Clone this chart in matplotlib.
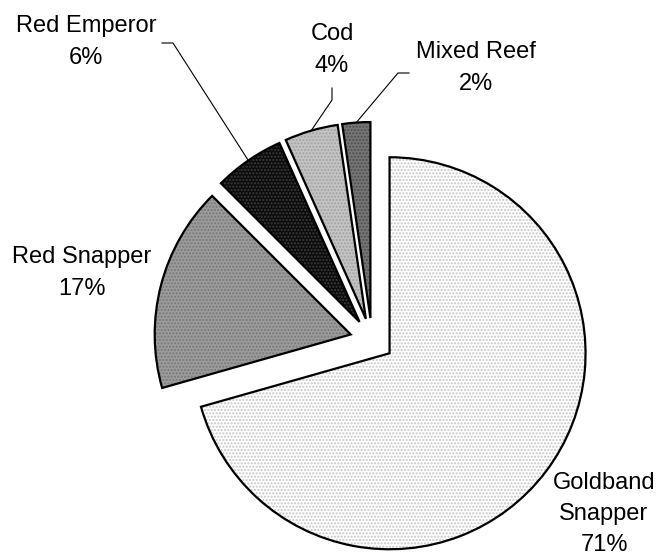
import matplotlib
matplotlib.use("Agg")
import matplotlib.pyplot as plt
import numpy as np

# catch share by species (%)
species = ["Goldband\nSnapper", "Red Snapper", "Red Emperor", "Cod", "Mixed Reef"]
catch_share = [70.6, 16.9, 5.8, 4.4, 2.3]

fill_colors = ["#ffffff", "#9c9c9c", "#0c0c0c", "#c4c4c4", "#767676"]
dot_colors = ["#c4c4c4", "#787878", "#3c3c3c", "#a2a2a2", "#4e4e4e"]

# layout in pixels of the original picture
W, H = 660, 555
CX, CY, R = 372, 340, 196
label_pos = [(604, 514), (82, 273), (86, 42), (332, 50), (476, 68)]
# elbow of the leader lines (label end, bend), only for the small slices
leaders = {2: [(162, 43), (173, 43)],
           3: [(332, 88), (332, 100)],
           4: [(409, 73), (398, 73)]}


def px(x, y):
    return (x - CX) / R, (CY - y) / R


plt.rcParams["font.family"] = ["Liberation Sans", "DejaVu Sans"]
plt.rcParams["hatch.linewidth"] = 1.0

fig = plt.figure(figsize=(W / 100, H / 100), dpi=100)
ax = fig.add_axes([0, 0, 1, 1])

explode = [22 / R] * len(catch_share)
common = dict(startangle=90, counterclock=False, explode=explode, radius=1)

# fill layer with dotted texture
wedges, _ = ax.pie(catch_share, colors=fill_colors,
                   wedgeprops=dict(linewidth=0), **common)
for w, dc in zip(wedges, dot_colors):
    w.set_edgecolor(dc)
    w.set_hatch(".....")

# outline layer
ax.pie(catch_share, colors=["none"] * len(catch_share),
       wedgeprops=dict(edgecolor="black", linewidth=1.6), **common)

total = sum(catch_share)
for i, (name, v) in enumerate(zip(species, catch_share)):
    pct = int(round(v / total * 100))
    x, y = px(*label_pos[i])
    ax.text(x, y, f"{name}\n{pct}%", ha="center", va="center",
            fontsize=17, linespacing=1.55)

    if i in leaders:
        w = wedges[i]
        tm = np.deg2rad((w.theta1 + w.theta2) / 2)
        ex = w.center[0] + w.r * np.cos(tm)
        ey = w.center[1] + w.r * np.sin(tm)
        pts = [px(*p) for p in leaders[i]] + [(ex, ey)]
        ax.plot([p[0] for p in pts], [p[1] for p in pts], color="black", lw=0.8)

ax.set_xlim(px(0, 0)[0], px(W, 0)[0])
ax.set_ylim(px(0, H)[1], px(0, 0)[1])
ax.set_aspect("auto")
ax.axis("off")

fig.savefig("out.png", dpi=100)
